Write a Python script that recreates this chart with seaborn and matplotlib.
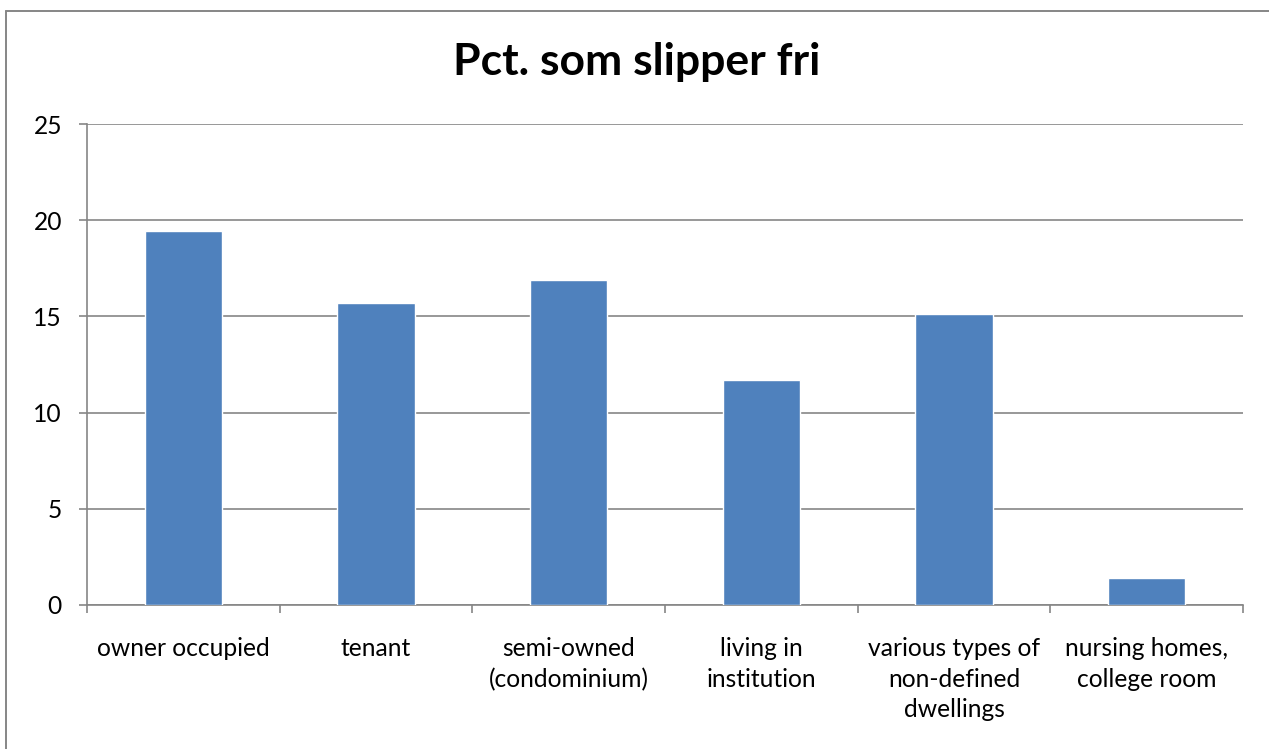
import matplotlib
matplotlib.use("Agg")
import matplotlib.pyplot as plt
from matplotlib.lines import Line2D
from matplotlib.ticker import FixedLocator
import seaborn as sns
import pandas as pd

# Share of each dwelling type that is exempt ("Pct. som slipper fri")
categories = [
    "owner occupied",
    "tenant",
    "semi-owned\n(condominium)",
    "living in\ninstitution",
    "various types of\nnon-defined\ndwellings",
    "nursing homes,\ncollege room",
]
values = [19.45, 15.68, 16.90, 11.69, 15.15, 1.40]
y_ticks = [0, 5, 10, 15, 20, 25]
title = "Pct. som slipper fri"

bar_color = "#4F81BD"
grid_color = "#868686"

sns.set_theme(style="white")
plt.rcParams["font.family"] = ["Lato", "DejaVu Sans"]

W, H = 1269, 749
fig = plt.figure(figsize=(W / 100, H / 100), dpi=100)
ax = fig.add_axes([87 / W, 1 - 605 / H, (1243 - 87) / W, (605 - 124) / H])

df = pd.DataFrame({"category": categories, "value": values})
sns.barplot(data=df, x="category", y="value", order=categories,
            color=bar_color, saturation=1, width=0.4, ax=ax, zorder=3)

ax.set_xlim(-0.5, len(categories) - 0.5)
ax.set_ylim(0, 25)
ax.set_yticks(y_ticks)
ax.set_yticklabels([str(t) for t in y_ticks])
ax.yaxis.grid(True, color=grid_color, linewidth=1.2, zorder=0)
ax.set_axisbelow(True)

for side in ("top", "right"):
    ax.spines[side].set_visible(False)
for side in ("left", "bottom"):
    ax.spines[side].set_color(grid_color)
    ax.spines[side].set_linewidth(1.2)

# category boundaries carry the small downward tick marks
ax.xaxis.set_minor_locator(FixedLocator([i - 0.5 for i in range(len(categories) + 1)]))
ax.tick_params(axis="x", which="minor", bottom=True, length=6, width=1.2,
               color=grid_color, direction="out")
ax.tick_params(axis="x", which="major", bottom=True, length=0, pad=23,
               labelsize=17.7, labelcolor="#000000")
ax.tick_params(axis="y", which="major", left=True, length=6, width=1.2,
               color=grid_color, direction="out", pad=12,
               labelsize=17.7, labelcolor="#000000")
for lab in ax.get_xticklabels():
    lab.set_linespacing(1.40)
    lab.set_verticalalignment("top")

ax.set_xlabel("")
ax.set_ylabel("")

fig.text(637 / W, 1 - 62 / H, title, ha="center", va="center",
         fontsize=32, fontweight="bold", color="#000000")

# outer chart frame (left and top edges)
fig.add_artist(Line2D([6.5 / W, 6.5 / W], [0, 1 - 11 / H],
                      transform=fig.transFigure, color=grid_color, linewidth=1.4))
fig.add_artist(Line2D([6.5 / W, 1], [1 - 11 / H, 1 - 11 / H],
                      transform=fig.transFigure, color=grid_color, linewidth=1.4))

fig.savefig("out.png", dpi=100, facecolor="white")
